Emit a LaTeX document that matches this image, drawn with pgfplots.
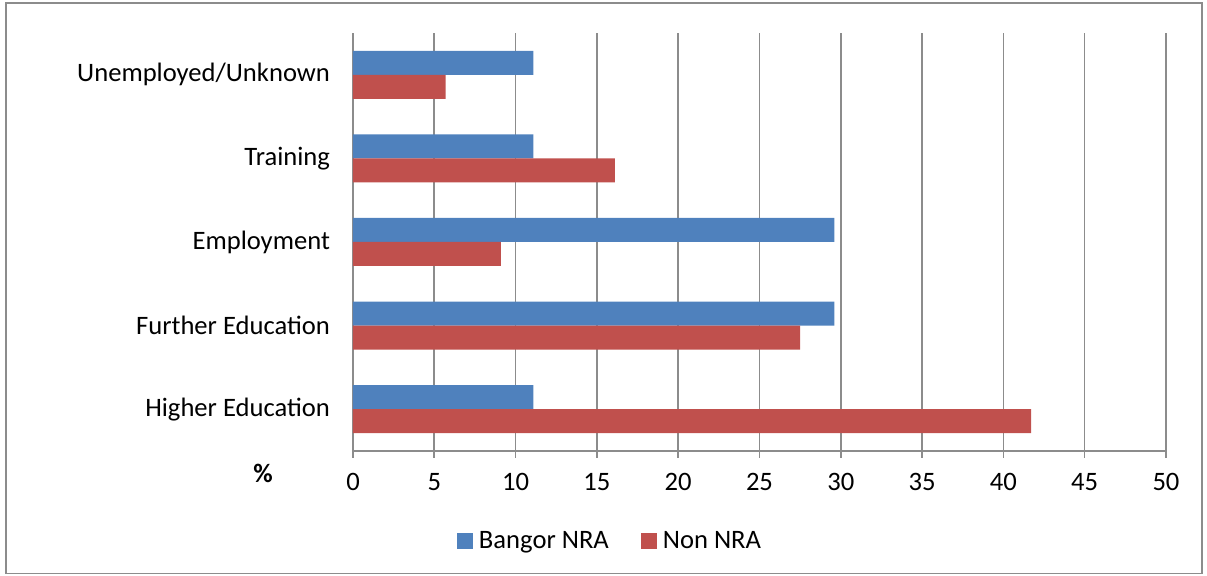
\documentclass[border=0pt]{standalone}
\usepackage{pgfplots}
\pgfplotsset{compat=1.18}
\usepackage{fontspec}
\setmainfont{Carlito}
\definecolor{cblue}{HTML}{4F81BD}
\definecolor{cred}{HTML}{C0504D}
\definecolor{cgrid}{HTML}{8C8C8C}
\begin{document}
\begin{tikzpicture}
\useasboundingbox (-176.5pt,-62.5pt) rectangle (427pt,225.5pt);
\draw[cgrid, line width=0.6pt] (-173.5pt,-61.3pt) rectangle (424.5pt,224pt);
\begin{axis}[
  at={(0pt,0pt)}, anchor=south west,
  scale only axis, width=406.5pt, height=209pt,
  xbar, bar width=12pt,
  xmin=0, xmax=50, ymin=-0.5, ymax=4.5,
  xtick={0,5,...,50},
  ytick={0,1,2,3,4},
  yticklabels={Higher Education, Further Education, Employment, Training, Unemployed/Unknown},
  minor ytick={-0.5,0.5,...,4.5},
  axis x line*=bottom, axis y line*=left,
  axis line style={cgrid, line width=0.8pt, -},
  xmajorgrids, major grid style={cgrid, line width=0.8pt},
  tick align=outside,
  major tick length=3.5pt, minor tick length=3.5pt,
  tick style={cgrid, line width=0.8pt},
  ytick style={draw=none},
  minor tick style={cgrid, line width=0.8pt},
  /pgf/number format/assume math mode=true,
  tick label style={font=\fontsize{13.3}{16}\selectfont, text=black},
  xticklabel style={yshift=-4pt},
  yticklabel style={xshift=-4.5pt},
  legend style={at={(0.3186,-0.2153)}, anchor=center, draw=none, legend columns=2,
    font=\fontsize{13.3}{16}\selectfont, column sep=0pt,
    nodes={inner xsep=3pt},
    /tikz/every even column/.append style={column sep=13pt}},
  legend image code/.code={\fill[#1] (0pt,-4pt) rectangle (8pt,4pt);},
  clip=false,
]
\addplot[fill=cblue, draw=none, bar shift=6pt] coordinates {(11.1,0) (29.6,1) (29.6,2) (11.1,3) (11.1,4)};
\addplot[fill=cred, draw=none, bar shift=-6pt] coordinates {(41.7,0) (27.5,1) (9.1,2) (16.1,3) (5.7,4)};
\legend{Bangor NRA, Non NRA}
\node[font=\bfseries\fontsize{13.3}{16}\selectfont] at (axis description cs:-0.1107,-0.0526) {\%};
\end{axis}
\end{tikzpicture}
\end{document}
